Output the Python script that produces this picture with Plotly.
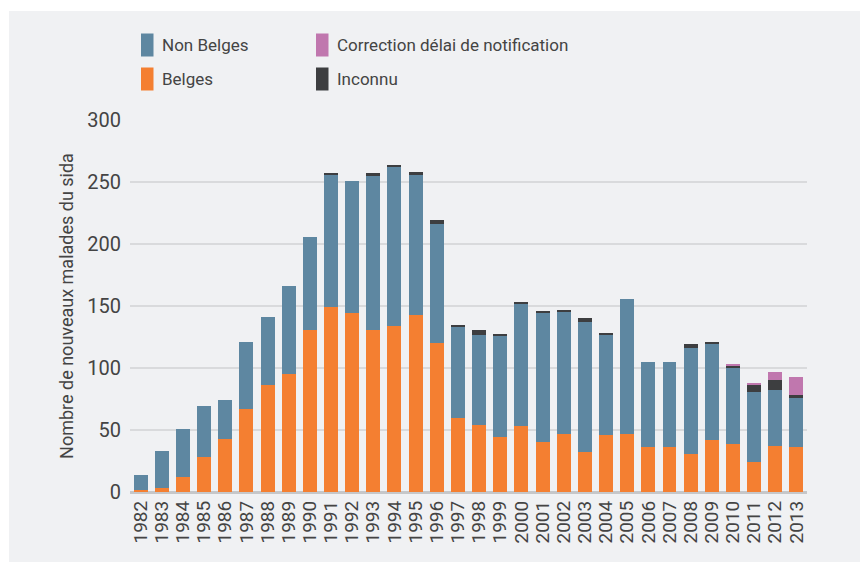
import plotly.graph_objects as go

years = [str(y) for y in range(1982, 2014)]
belges = [2, 3, 12, 28, 43, 67, 86, 95, 131, 149, 144, 131, 134, 143, 120, 60,
          54, 44, 53, 40, 47, 32, 46, 47, 36, 36, 31, 42, 39, 24, 37, 36]
non_belges = [12, 30, 39, 41, 31, 54, 55, 71, 75, 107, 107, 124, 128, 113, 96, 73,
              73, 82, 99, 105, 98, 105, 81, 109, 69, 69, 85, 78, 61, 57, 45, 40]
inconnu = [0, 0, 0, 0, 0, 0, 0, 0, 0, 1, 0, 2, 2, 2, 3, 2,
           4, 1, 1, 1, 2, 3, 1, 0, 0, 0, 3, 1, 2, 5, 8, 2]
correction = [0, 0, 0, 0, 0, 0, 0, 0, 0, 0, 0, 0, 0, 0, 0, 0,
              0, 0, 0, 0, 0, 0, 0, 0, 0, 0, 0, 0, 1, 2, 7, 15]
y_ticks = [0, 50, 100, 150, 200, 250, 300]

names = ["Belges", "Non Belges", "Inconnu", "Correction délai de notification"]
colors = ["#f47f31", "#5e87a1", "#3d3e40", "#c077ae"]
series = [belges, non_belges, inconnu, correction]

FONT = "Roboto, Liberation Sans Narrow, sans-serif"
TXT = "#444444"
BG = "#f0f1f3"

fig = go.Figure()
for n, c, s in zip(names, colors, series):
    fig.add_trace(go.Bar(x=years, y=s, name=n, marker=dict(color=c, line=dict(width=0)),
                         showlegend=False))

# screen-pixel helpers (plot area: x 130..807, y 120..492 on screen)
W = 677.0
H = 372.0
def px2x(px):
    return (px - 130) / W
def py2y(py):
    return (492 - py) / H

# gray panel
fig.add_shape(type="rect", xref="paper", yref="paper", x0=px2x(9), x1=1.2, y0=-0.3, y1=py2y(11),
              fillcolor=BG, line=dict(width=0), layer="below")

# manual legend (2 columns)
legend_items = [("Non Belges", colors[1], 141, 45),
                ("Belges", colors[0], 141, 79),
                ("Correction délai de notification", colors[3], 316, 45),
                ("Inconnu", colors[2], 316, 79)]
for label, col, lx, ly in legend_items:
    fig.add_shape(type="rect", xref="paper", yref="paper",
                  x0=px2x(lx), x1=px2x(lx + 12.5), y0=py2y(ly + 11.5), y1=py2y(ly - 11.5),
                  fillcolor=col, line=dict(width=0))
    fig.add_annotation(xref="paper", yref="paper", x=px2x(lx + 19), y=py2y(ly),
                       text=label, showarrow=False, xanchor="left", yanchor="middle",
                       font=dict(family=FONT, size=17, color=TXT))

fig.update_layout(
    barmode="stack",
    bargap=0.34,
    width=860, height=554,
    margin=dict(l=122, r=61, t=112, b=70),
    paper_bgcolor="white",
    plot_bgcolor=BG,
    font=dict(family=FONT, size=19, color=TXT),
    xaxis=dict(type="category", tickangle=-90, showgrid=False, ticks="",
               tickmode="array", tickvals=years, ticktext=years,
               tickfont=dict(family=FONT, size=19, color=TXT), ticklabelstandoff=4),
    yaxis=dict(range=[0, 300], tickvals=y_ticks, showgrid=True, gridcolor="#d9dadc", gridwidth=2,
               zeroline=True, zerolinecolor="#c6c7c9", zerolinewidth=3, ticks="",
               tickfont=dict(family=FONT, size=20, color=TXT), ticklabelstandoff=8,
               title=dict(text="Nombre de nouveaux malades du sida",
                          font=dict(family=FONT, size=18, color=TXT), standoff=8)),
)

fig.write_html("out.html")
